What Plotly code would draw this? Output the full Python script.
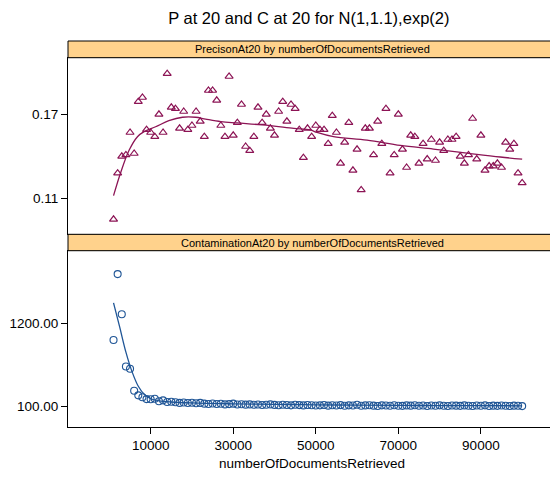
import plotly.graph_objects as go

# %% DATA
n_docs = list(range(1000, 100001, 1000))

precision_at20 = [
    0.095, 0.128, 0.140, 0.141, 0.157, 0.142, 0.179, 0.182, 0.159, 0.157,
    0.154, 0.170, 0.157, 0.199, 0.175, 0.174, 0.160, 0.172, 0.159, 0.162,
    0.172, 0.165, 0.154, 0.187, 0.187, 0.180, 0.162, 0.154, 0.197, 0.155,
    0.164, 0.177, 0.147, 0.144, 0.154, 0.175, 0.164, 0.170, 0.160, 0.155,
    0.172, 0.179, 0.165, 0.177, 0.174, 0.159, 0.139, 0.160, 0.154, 0.162,
    0.159, 0.159, 0.149, 0.169, 0.157, 0.135, 0.150, 0.164, 0.130, 0.145,
    0.116, 0.160, 0.160, 0.141, 0.165, 0.149, 0.174, 0.128, 0.141, 0.170,
    0.145, 0.132, 0.155, 0.154, 0.135, 0.149, 0.138, 0.152, 0.137, 0.150,
    0.144, 0.152, 0.152, 0.154, 0.140, 0.135, 0.141, 0.167, 0.138, 0.155,
    0.130, 0.133, 0.133, 0.135, 0.132, 0.150, 0.145, 0.149, 0.128, 0.121,
]

contamination_at20 = [
    980, 1850, 1320, 630, 600, 310, 250, 225, 200, 198,
    205, 172, 184, 162, 165, 158, 150, 155, 148, 152,
    145, 150, 140, 136, 142, 135, 138, 130, 134, 140,
    128, 132, 127, 130, 125, 128, 122, 126, 130, 124,
    120, 125, 122, 118, 126, 121, 117, 123, 120, 115,
    118, 122, 114, 119, 116, 121, 113, 118, 115, 125,
    112, 117, 120, 114, 110, 118, 116, 112, 119, 113,
    111, 117, 114, 120, 112, 116, 110, 115, 113, 118,
    112, 109, 116, 114, 111, 117, 113, 110, 115, 112,
    118, 110, 114, 111, 116, 113, 110, 114, 112, 108,
]

# smoother curves
prec_smooth_x = [1000, 2800, 4800, 6800, 8400, 11200, 14400, 17700, 20900, 23300,
                 27000, 31000, 37000, 44700, 48700, 50300, 54300, 62400, 70500,
                 78500, 86600, 94700, 100000]
prec_smooth_y = [0.1119, 0.129, 0.1445, 0.154, 0.1576, 0.1611, 0.1654, 0.1679, 0.1679, 0.1666,
                 0.1648, 0.1638, 0.1624, 0.160, 0.1588, 0.1570, 0.1540, 0.1516, 0.1478,
                 0.1452, 0.1423, 0.1395, 0.1380]

cont_smooth_x = [1000, 2500, 4000, 5500, 7000, 8500, 10000, 12000, 15000, 20000,
                 30000, 40000, 50000, 60000, 70000, 80000, 90000, 100000]
cont_smooth_y = [1470, 1150, 820, 560, 370, 260, 205, 178, 162, 150,
                 138, 130, 125, 120, 117, 115, 113, 112]

# %% FIGURE
maroon = "#8C1455"
blue = "#1F5596"
strip_fill = "#FFD28C"

fig = go.Figure()

fig.add_trace(go.Scatter(x=n_docs, y=precision_at20, mode="markers", xaxis="x2", yaxis="y2",
                         marker=dict(symbol="triangle-up-open", size=7, color=maroon, line=dict(width=1.2))))
fig.add_trace(go.Scatter(x=prec_smooth_x, y=prec_smooth_y, mode="lines", xaxis="x2", yaxis="y2",
                         line=dict(color=maroon, width=1.3, shape="spline")))
fig.add_trace(go.Scatter(x=n_docs, y=contamination_at20, mode="markers",
                         marker=dict(symbol="circle-open", size=7, color=blue, line=dict(width=1.1))))
fig.add_trace(go.Scatter(x=cont_smooth_x, y=cont_smooth_y, mode="lines",
                         line=dict(color=blue, width=1.3, shape="spline")))

# panel domains (paper fractions)
bot = [0.0, 0.4567]
bot_strip = [0.4567, 0.4992]
top = [0.4992, 0.9567]
top_strip = [0.9567, 1.0]

font = "Liberation Sans, Arial, sans-serif"
x_range = [-10030, 108200]
axis_common = dict(showline=True, mirror=True, linecolor="black", linewidth=1,
                   showgrid=False, zeroline=False)

# the page body adds an 8px margin, so the figure is 16px smaller than the window
fig.update_layout(
    width=550, height=475,
    margin=dict(l=59, r=1, t=33, b=56),
    paper_bgcolor="white", plot_bgcolor="white",
    showlegend=False,
    font=dict(family=font, size=13.5, color="black"),
    title=dict(text="P at 20 and C at 20 for N(1,1.1),exp(2)", x=0.547, xanchor="center",
               y=0.979, yanchor="middle", font=dict(size=16.5)),
    xaxis=dict(domain=[0, 1], range=x_range, anchor="y", tickvals=[10000, 30000, 50000, 70000, 90000],
               ticktext=["10000", "30000", "50000", "70000", "90000"], ticks="outside", ticklen=6,
               tickcolor="black",
               title=dict(text="numberOfDocumentsRetrieved", standoff=6, font=dict(size=13.5)),
               **axis_common),
    yaxis=dict(domain=bot, range=[-168, 2159], tickvals=[100, 1200], ticktext=["100.00", "1200.00"],
               ticks="outside", ticklen=6, tickcolor="black", **axis_common),
    xaxis2=dict(domain=[0, 1], range=x_range, anchor="y2", showticklabels=False, ticks="", **axis_common),
    yaxis2=dict(domain=top, range=[0.0843, 0.2104], anchor="x2", tickvals=[0.11, 0.17],
                ticktext=["0.11", "0.17"], ticks="outside", ticklen=6, tickcolor="black", **axis_common),
)

strips = [
    (top_strip, "PrecisonAt20 by numberOfDocumentsRetrieved"),
    (bot_strip, "ContaminationAt20 by numberOfDocumentsRetrieved"),
]
for dom, label in strips:
    fig.add_shape(type="rect", xref="paper", yref="paper", x0=0, x1=1, y0=dom[0], y1=dom[1],
                  fillcolor=strip_fill, line=dict(color="black", width=1), layer="above")
    fig.add_annotation(text=label, xref="paper", yref="paper", x=0.5, y=(dom[0] + dom[1]) / 2,
                       showarrow=False, font=dict(size=11), xanchor="center", yanchor="middle")

fig.write_html("out.html")
